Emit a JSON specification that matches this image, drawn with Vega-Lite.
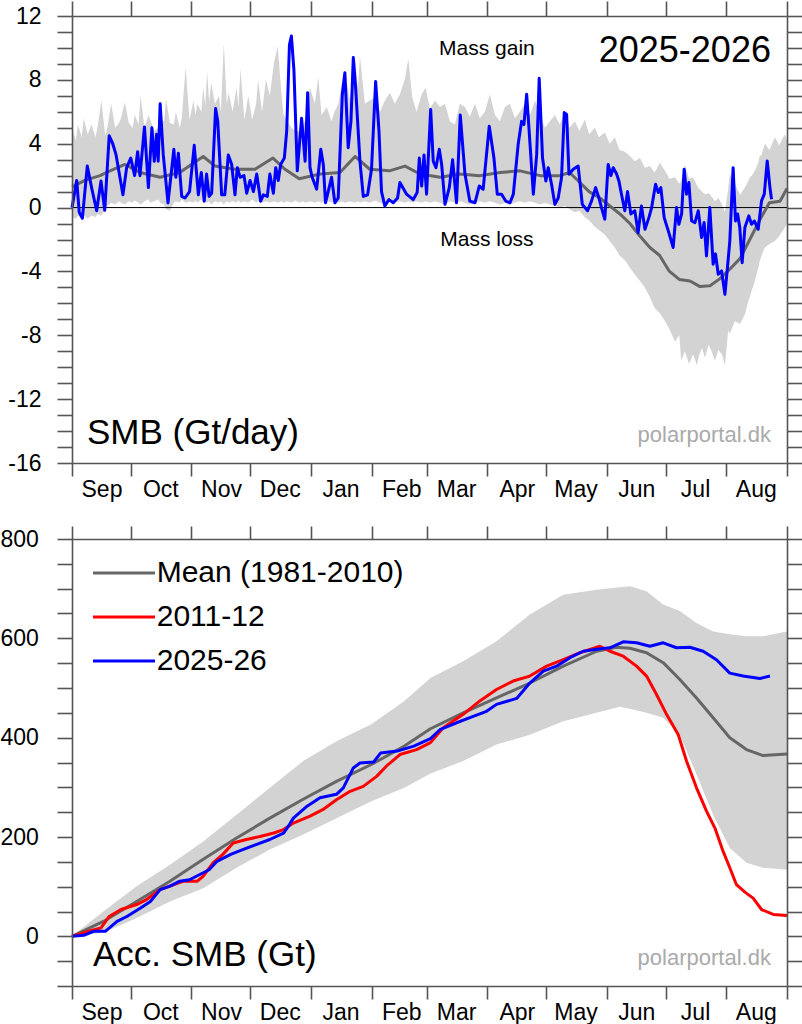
{
  "$schema": "https://vega.github.io/schema/vega-lite/v6.json",
  "padding": {"left": 0, "top": 0, "right": 0, "bottom": 0},
  "bounds": "flush",
  "spacing": 76,
  "datasets": {
    "band1": [
      {"d":0,"lo":-0.6,"hi":5.0},{"d":2,"lo":-0.7,"hi":4.2},{"d":3,"lo":-0.5,"hi":5.2},{"d":5,"lo":-0.7,"hi":4.4},{"d":6,"lo":-0.5,"hi":5.6},
      {"d":8,"lo":-0.7,"hi":4.6},{"d":10,"lo":-0.5,"hi":5.2},{"d":12,"lo":-0.6,"hi":4.4},{"d":13,"lo":-0.4,"hi":5.0},{"d":15,"lo":-0.5,"hi":6.7},
      {"d":17,"lo":-0.1,"hi":4.5},{"d":18,"lo":0.1,"hi":5.0},{"d":20,"lo":0.3,"hi":6.5},{"d":22,"lo":0.2,"hi":5.0},{"d":24,"lo":0.4,"hi":5.3},
      {"d":25,"lo":0.3,"hi":5.6},{"d":27,"lo":0.2,"hi":6.6},{"d":29,"lo":0.4,"hi":5.3},{"d":31,"lo":0.3,"hi":5.0},{"d":32,"lo":0.45,"hi":5.8},
      {"d":34,"lo":0.3,"hi":5.2},{"d":35,"lo":0.2,"hi":7.0},{"d":37,"lo":0.4,"hi":5.0},{"d":39,"lo":0.5,"hi":5.8},{"d":40,"lo":0.3,"hi":5.5},
      {"d":42,"lo":0.4,"hi":4.8},{"d":44,"lo":0.5,"hi":5.0},{"d":45,"lo":0.3,"hi":5.5},{"d":47,"lo":0.2,"hi":5.4},{"d":48,"lo":-0.1,"hi":6.8},
      {"d":50,"lo":-0.2,"hi":5.3},{"d":52,"lo":0.3,"hi":5.2},{"d":53,"lo":0.4,"hi":6.0},{"d":55,"lo":0.3,"hi":5.0},{"d":56,"lo":0.5,"hi":5.6},
      {"d":58,"lo":0.3,"hi":8.8},{"d":60,"lo":0.4,"hi":5.5},{"d":62,"lo":0.3,"hi":6.7},{"d":63,"lo":0.45,"hi":5.8},{"d":64,"lo":0.3,"hi":6.5},
      {"d":66,"lo":0.5,"hi":6.0},{"d":67,"lo":0.3,"hi":7.5},{"d":68,"lo":0.4,"hi":6.4},{"d":69,"lo":0.3,"hi":8.5},{"d":70,"lo":0.4,"hi":6.6},
      {"d":71,"lo":0.2,"hi":7.8},{"d":73,"lo":0.4,"hi":6.5},{"d":75,"lo":0.3,"hi":7.0},{"d":76,"lo":0.4,"hi":6.0},{"d":77.5,"lo":0.2,"hi":10.3},
      {"d":79,"lo":0.4,"hi":6.5},{"d":80,"lo":0.3,"hi":7.2},{"d":82,"lo":0.4,"hi":6.0},{"d":84,"lo":0.3,"hi":7.5},{"d":85,"lo":0.45,"hi":6.3},
      {"d":86,"lo":0.3,"hi":8.7},{"d":88,"lo":0.4,"hi":5.5},{"d":90,"lo":0.3,"hi":7.0},{"d":92,"lo":0.5,"hi":5.5},{"d":94,"lo":0.3,"hi":6.5},
      {"d":95,"lo":0.4,"hi":8.0},{"d":97,"lo":0.3,"hi":6.0},{"d":99,"lo":0.4,"hi":8.0},{"d":101,"lo":0.3,"hi":7.0},{"d":103,"lo":0.4,"hi":9.0},
      {"d":105,"lo":0.3,"hi":10.1},{"d":107,"lo":0.4,"hi":7.0},{"d":108,"lo":0.3,"hi":5.8},{"d":110,"lo":0.4,"hi":5.4},{"d":112,"lo":0.3,"hi":5.0},
      {"d":114,"lo":0.45,"hi":4.8},{"d":116,"lo":0.3,"hi":4.8},{"d":118,"lo":0.4,"hi":5.2},{"d":119,"lo":0.3,"hi":5.4},{"d":121.5,"lo":0.4,"hi":7.5},
      {"d":124,"lo":0.3,"hi":6.5},{"d":125.7,"lo":0.4,"hi":8.2},{"d":127.4,"lo":0.3,"hi":5.8},{"d":130,"lo":0.45,"hi":6.3},{"d":132.5,"lo":0.3,"hi":5.4},
      {"d":134,"lo":0.4,"hi":6.0},{"d":136,"lo":0.3,"hi":6.5},{"d":137.6,"lo":0.4,"hi":7.7},{"d":139.3,"lo":0.3,"hi":8.6},{"d":141.9,"lo":0.4,"hi":6.7},
      {"d":144.4,"lo":0.3,"hi":9.4},{"d":146,"lo":0.4,"hi":7.5},{"d":147,"lo":0.3,"hi":9.5},{"d":149.5,"lo":0.4,"hi":6.5},{"d":152,"lo":0.3,"hi":6.7},
      {"d":154.6,"lo":0.45,"hi":6.9},{"d":157.2,"lo":0.3,"hi":6.0},{"d":159.7,"lo":0.2,"hi":6.7},{"d":162.3,"lo":0.4,"hi":7.2},{"d":164.8,"lo":0.3,"hi":6.5},
      {"d":167.4,"lo":0.4,"hi":7.1},{"d":170,"lo":0.3,"hi":8.1},{"d":171.7,"lo":0.4,"hi":9.3},{"d":173.7,"lo":0.3,"hi":6.9},{"d":175.9,"lo":0.4,"hi":6.0},
      {"d":178.5,"lo":0.3,"hi":7.1},{"d":180.5,"lo":0.4,"hi":7.5},{"d":182.7,"lo":0.3,"hi":6.2},{"d":185.3,"lo":0.4,"hi":6.7},{"d":187.8,"lo":0.3,"hi":6.3},
      {"d":190.4,"lo":0.2,"hi":6.5},{"d":192.9,"lo":0.4,"hi":5.4},{"d":195.5,"lo":0.3,"hi":5.2},{"d":198,"lo":0.4,"hi":6.5},{"d":200.6,"lo":0.3,"hi":6.3},
      {"d":203.1,"lo":0.2,"hi":5.7},{"d":205.7,"lo":0.3,"hi":6.5},{"d":208.2,"lo":0.4,"hi":5.6},{"d":210.8,"lo":0.3,"hi":6.0},{"d":213.3,"lo":0.4,"hi":7.1},
      {"d":215.9,"lo":0.3,"hi":5.8},{"d":218.4,"lo":0.2,"hi":5.4},{"d":221,"lo":0.3,"hi":6.3},{"d":223.5,"lo":0.2,"hi":6.5},{"d":226.1,"lo":0.3,"hi":5.6},
      {"d":228.6,"lo":0.4,"hi":6.0},{"d":231.2,"lo":0.3,"hi":6.5},{"d":233.8,"lo":0.4,"hi":5.8},{"d":236.3,"lo":0.3,"hi":6.7},{"d":238.9,"lo":0.2,"hi":5.8},
      {"d":241.4,"lo":0.3,"hi":5.0},{"d":244,"lo":0.2,"hi":5.4},{"d":246.5,"lo":0.1,"hi":5.8},{"d":249,"lo":0.0,"hi":5.2},{"d":251.6,"lo":0.1,"hi":6.0},
      {"d":254,"lo":-0.1,"hi":5.0},{"d":256.7,"lo":-0.3,"hi":5.4},{"d":259,"lo":-0.2,"hi":4.8},{"d":261.8,"lo":-0.6,"hi":5.5},{"d":264,"lo":-0.8,"hi":4.6},
      {"d":266.9,"lo":-1.2,"hi":5.0},{"d":269,"lo":-1.4,"hi":4.4},{"d":272,"lo":-1.7,"hi":4.7},{"d":274.5,"lo":-2.1,"hi":4.0},{"d":277.1,"lo":-2.5,"hi":4.4},
      {"d":279.5,"lo":-3.0,"hi":3.6},{"d":282.2,"lo":-3.3,"hi":3.5},{"d":285,"lo":-3.8,"hi":3.2},{"d":287.3,"lo":-4.2,"hi":2.9},{"d":290,"lo":-4.6,"hi":3.1},
      {"d":292.4,"lo":-5.0,"hi":2.5},{"d":295,"lo":-5.6,"hi":2.6},{"d":297.5,"lo":-6.3,"hi":2.2},{"d":300,"lo":-6.6,"hi":2.8},{"d":302.7,"lo":-7.1,"hi":2.3},
      {"d":305,"lo":-7.6,"hi":1.8},{"d":307.8,"lo":-8.4,"hi":1.9},{"d":310,"lo":-8.0,"hi":1.5},{"d":311,"lo":-9.6,"hi":1.7},{"d":312.9,"lo":-9.0,"hi":2.7},
      {"d":315,"lo":-9.8,"hi":1.8},{"d":317,"lo":-9.2,"hi":1.9},{"d":318,"lo":-9.5,"hi":1.67},{"d":319,"lo":-9.9,"hi":1.4},{"d":320,"lo":-9.3,"hi":1.2},
      {"d":321.6,"lo":-8.8,"hi":1.0},{"d":323.1,"lo":-9.4,"hi":0.83},{"d":325,"lo":-8.6,"hi":0.9},{"d":326.5,"lo":-9.0,"hi":0.7},{"d":328.2,"lo":-9.6,"hi":0.4},
      {"d":330,"lo":-8.9,"hi":0.6},{"d":331.8,"lo":-9.2,"hi":0.2},{"d":333.3,"lo":-9.9,"hi":-0.3},{"d":335,"lo":-7.7,"hi":1.2},{"d":335.8,"lo":-7.9,"hi":2.1},
      {"d":338.4,"lo":-7.1,"hi":1.5},{"d":341,"lo":-7.3,"hi":0.8},{"d":343.5,"lo":-6.7,"hi":1.25},{"d":345,"lo":-6.0,"hi":1.6},{"d":346,"lo":-5.6,"hi":1.9},
      {"d":347,"lo":-5.2,"hi":2.0},{"d":348.6,"lo":-4.6,"hi":2.3},{"d":350.3,"lo":-3.8,"hi":2.8},{"d":351,"lo":-3.4,"hi":3.2},{"d":352,"lo":-3.0,"hi":3.3},
      {"d":353.7,"lo":-2.5,"hi":4.0},{"d":356,"lo":-2.3,"hi":3.6},{"d":358.8,"lo":-2.1,"hi":4.4},{"d":361,"lo":-1.8,"hi":3.9},{"d":363.9,"lo":-1.25,"hi":4.6},
      {"d":365,"lo":-1.0,"hi":4.2}
    ],
    "mean1": [
      {"d":0,"v":1.3},{"d":6.6,"v":1.7},{"d":14.3,"v":2.0},{"d":19.4,"v":2.3},{"d":27,"v":2.7},{"d":34.7,"v":2.2},{"d":45,"v":1.9},
      {"d":55,"v":2.2},{"d":67,"v":3.2},{"d":73,"v":2.6},{"d":83,"v":2.4},{"d":93.4,"v":2.4},{"d":102.6,"v":3.1},{"d":108.7,"v":2.4},
      {"d":116,"v":1.8},{"d":126.6,"v":2.1},{"d":136.8,"v":2.2},{"d":144.5,"v":3.2},{"d":152,"v":2.4},{"d":162,"v":2.3},{"d":170,"v":2.6},
      {"d":177.6,"v":2.1},{"d":188,"v":1.9},{"d":198,"v":2.1},{"d":208,"v":2.0},{"d":218.5,"v":2.2},{"d":228.7,"v":2.3},{"d":239,"v":2.0},
      {"d":249,"v":2.0},{"d":254,"v":2.2},{"d":259,"v":1.6},{"d":264,"v":1.0},{"d":269.5,"v":0.6},{"d":274.6,"v":0.1},{"d":279.7,"v":-0.4},
      {"d":284.8,"v":-1.0},{"d":290,"v":-1.8},{"d":295,"v":-2.5},{"d":300,"v":-3.0},{"d":305,"v":-4.0},{"d":310,"v":-4.5},{"d":315.5,"v":-4.6},
      {"d":320.6,"v":-4.95},{"d":325.7,"v":-4.9},{"d":330.8,"v":-4.45},{"d":335.9,"v":-3.85},{"d":341,"v":-3.2},{"d":346,"v":-2.0},
      {"d":351,"v":-0.8},{"d":356,"v":0.3},{"d":361.4,"v":0.4},{"d":365,"v":1.2}
    ],
    "cur1": [
      {"d":0,"v":0},{"d":2.4,"v":1.7},{"d":3.7,"v":-0.3},{"d":5.3,"v":-0.67},{"d":7.8,"v":2.6},{"d":10,"v":1.25},{"d":12.6,"v":-0.2},
      {"d":14.8,"v":1.67},{"d":16.7,"v":-0.17},{"d":19,"v":4.5},{"d":20.8,"v":4.0},{"d":22.5,"v":3.3},{"d":26,"v":0.8},{"d":27.9,"v":2.5},
      {"d":30,"v":3.1},{"d":32,"v":2.0},{"d":33.5,"v":3.5},{"d":34.7,"v":2.0},{"d":37,"v":5.05},{"d":39,"v":1.25},{"d":40.8,"v":5.0},
      {"d":42,"v":2.9},{"d":43.2,"v":4.6},{"d":44,"v":2.9},{"d":45,"v":6.5},{"d":46.6,"v":3.3},{"d":49,"v":0.3},{"d":52,"v":3.65},
      {"d":53,"v":1.9},{"d":54.3,"v":3.4},{"d":56,"v":0.7},{"d":57.7,"v":0.6},{"d":60,"v":1.0},{"d":62.4,"v":3.9},{"d":64.5,"v":0.8},
      {"d":66,"v":2.2},{"d":67.5,"v":0.4},{"d":68.7,"v":2.1},{"d":70,"v":0.7},{"d":71.3,"v":0.9},{"d":73.3,"v":6.2},{"d":74.4,"v":5.4},
      {"d":76.4,"v":0.8},{"d":78,"v":0.8},{"d":79.8,"v":3.3},{"d":81.5,"v":2.7},{"d":83.2,"v":0.8},{"d":84.4,"v":2.5},{"d":85.8,"v":1.9},
      {"d":87.8,"v":2.0},{"d":89.2,"v":0.9},{"d":90.9,"v":1.7},{"d":92.6,"v":1.0},{"d":94.3,"v":2.1},{"d":96.3,"v":0.4},{"d":97.7,"v":0.8},
      {"d":99.7,"v":0.7},{"d":101,"v":2.1},{"d":102.8,"v":0.9},{"d":104,"v":2.5},{"d":105.3,"v":1.7},{"d":106.5,"v":2.7},{"d":108.4,"v":3.1},
      {"d":109.6,"v":4.8},{"d":111,"v":10.2},{"d":112,"v":10.75},{"d":113.3,"v":8.6},{"d":115,"v":2.3},{"d":117.2,"v":5.6},{"d":119,"v":2.9},
      {"d":120.3,"v":7.2},{"d":121.5,"v":2.5},{"d":122.6,"v":1.9},{"d":124.9,"v":1.15},{"d":127,"v":3.65},{"d":128.3,"v":2.7},{"d":129.4,"v":0.3},
      {"d":131.1,"v":1.15},{"d":132.5,"v":1.9},{"d":134.2,"v":0.3},{"d":135.9,"v":0.6},{"d":138,"v":7.1},{"d":139.3,"v":8.45},{"d":141,"v":3.75},
      {"d":142.4,"v":5.4},{"d":143.6,"v":9.4},{"d":144.8,"v":7.5},{"d":147,"v":2.9},{"d":148.7,"v":0.7},{"d":150.9,"v":0.8},{"d":152.9,"v":2.4},
      {"d":155,"v":7.9},{"d":156.7,"v":4.8},{"d":158,"v":1.0},{"d":159.7,"v":0.1},{"d":161.8,"v":0.5},{"d":164,"v":0.3},{"d":166.2,"v":0.6},
      {"d":167.4,"v":1.57},{"d":170.8,"v":0.84},{"d":174.2,"v":0.5},{"d":176.2,"v":0.94},{"d":177.3,"v":3.1},{"d":178.5,"v":1.35},{"d":179.7,"v":3.3},
      {"d":181,"v":0.84},{"d":183.1,"v":6.15},{"d":184.4,"v":2.9},{"d":185.8,"v":2.5},{"d":187.5,"v":3.65},{"d":188.7,"v":2.7},{"d":190.4,"v":0.2},
      {"d":192.6,"v":1.25},{"d":194.3,"v":3.0},{"d":196.3,"v":0.3},{"d":198.2,"v":5.8},{"d":200.6,"v":2.1},{"d":203.1,"v":0.4},{"d":205.7,"v":0.3},
      {"d":207.9,"v":1.35},{"d":209.9,"v":1.15},{"d":213,"v":5.1},{"d":215.4,"v":3.1},{"d":217.1,"v":0.84},{"d":219.3,"v":0.84},{"d":221.5,"v":0.4},
      {"d":223.6,"v":0.3},{"d":225.3,"v":0.84},{"d":227.8,"v":4.0},{"d":229.5,"v":5.4},{"d":230.7,"v":5.2},{"d":232.1,"v":7.1},{"d":233.8,"v":4.0},
      {"d":235.5,"v":0.84},{"d":237.2,"v":3.3},{"d":238.5,"v":8.1},{"d":240.2,"v":3.1},{"d":241.9,"v":1.67},{"d":243.1,"v":2.5},{"d":244.8,"v":1.46},
      {"d":246.5,"v":0.2},{"d":248.2,"v":0.6},{"d":249.9,"v":1.88},{"d":251.3,"v":5.95},{"d":252.5,"v":5.84},{"d":253.7,"v":2.09},{"d":255.9,"v":2.4},
      {"d":258.4,"v":2.6},{"d":260.5,"v":0.2},{"d":263.2,"v":-0.2},{"d":265.2,"v":0.4},{"d":267.3,"v":1.25},{"d":269,"v":0.6},{"d":270.3,"v":0},
      {"d":272,"v":-0.73},{"d":273.7,"v":2.7},{"d":275.1,"v":2.0},{"d":276.3,"v":2.5},{"d":278,"v":2.1},{"d":279.2,"v":1.67},{"d":280.5,"v":0.84},
      {"d":282.2,"v":-0.2},{"d":283.6,"v":1.0},{"d":285.3,"v":-0.4},{"d":287.3,"v":-0.2},{"d":289,"v":-1.57},{"d":290.7,"v":0.1},{"d":292.5,"v":-1.36},
      {"d":294.5,"v":-0.63},{"d":295.9,"v":0},{"d":297.9,"v":1.46},{"d":299.3,"v":0.94},{"d":300.6,"v":1.25},{"d":302.3,"v":-0.63},{"d":304.4,"v":-1.46},
      {"d":306.9,"v":-2.5},{"d":308.6,"v":0},{"d":309.8,"v":-1.05},{"d":311.2,"v":-0.4},{"d":312.5,"v":2.4},{"d":313.7,"v":0.84},{"d":314.9,"v":1.57},
      {"d":316.3,"v":-0.84},{"d":318,"v":-0.94},{"d":319.7,"v":-0.2},{"d":321.4,"v":-1.88},{"d":322.7,"v":-0.94},{"d":323.9,"v":-3.03},{"d":325.6,"v":0},
      {"d":327.3,"v":-3.55},{"d":328.5,"v":-2.9},{"d":329.9,"v":-4.18},{"d":331.6,"v":-3.97},{"d":333.3,"v":-5.43},{"d":334.6,"v":-3.76},{"d":335.8,"v":-2.1},
      {"d":337.5,"v":2.5},{"d":338.7,"v":-0.84},{"d":339.8,"v":-0.4},{"d":340.9,"v":-1.25},{"d":342.1,"v":-3.45},{"d":343.5,"v":-1.25},{"d":345.5,"v":-0.52},
      {"d":346.9,"v":-1.05},{"d":348.3,"v":-0.84},{"d":350.3,"v":-1.36},{"d":352,"v":0.42},{"d":353.4,"v":0.84},{"d":354.9,"v":2.92},{"d":356.3,"v":1.25},
      {"d":357.1,"v":0.52}
    ],
    "band2": [
      {"d":0,"lo":0,"hi":0},{"d":16,"lo":7,"hi":50},{"d":33,"lo":37,"hi":101},{"d":50,"lo":70,"hi":144},{"d":67,"lo":97,"hi":191},
      {"d":84,"lo":138,"hi":245},{"d":101,"lo":175,"hi":299},{"d":118,"lo":205,"hi":353},{"d":135,"lo":238,"hi":393},{"d":152.8,"lo":272,"hi":427},
      {"d":169.7,"lo":299,"hi":474},{"d":183,"lo":328,"hi":520},{"d":199.7,"lo":353,"hi":554},{"d":216.7,"lo":386,"hi":594},{"d":233.7,"lo":406,"hi":648},
      {"d":250.8,"lo":433,"hi":688},{"d":267.8,"lo":450,"hi":698},{"d":279.7,"lo":462,"hi":703},{"d":284.8,"lo":458,"hi":705},{"d":293.3,"lo":450,"hi":695},
      {"d":301.8,"lo":440,"hi":668},{"d":310.3,"lo":406,"hi":655},{"d":318.8,"lo":326,"hi":631},{"d":327.3,"lo":245,"hi":614},{"d":335.8,"lo":178,"hi":608},
      {"d":344.3,"lo":148,"hi":604},{"d":352.8,"lo":138,"hi":604},{"d":365,"lo":134,"hi":614}
    ],
    "lines2": [
      {"s":"Mean (1981-2010)","d":0,"v":0},{"s":"Mean (1981-2010)","d":16,"v":30},{"s":"Mean (1981-2010)","d":33,"v":70},
      {"s":"Mean (1981-2010)","d":50,"v":111},{"s":"Mean (1981-2010)","d":67,"v":155},{"s":"Mean (1981-2010)","d":84,"v":198},
      {"s":"Mean (1981-2010)","d":101,"v":238},{"s":"Mean (1981-2010)","d":118,"v":276},{"s":"Mean (1981-2010)","d":135,"v":312},
      {"s":"Mean (1981-2010)","d":152.8,"v":346},{"s":"Mean (1981-2010)","d":169.7,"v":383},{"s":"Mean (1981-2010)","d":183,"v":418},
      {"s":"Mean (1981-2010)","d":199.7,"v":450},{"s":"Mean (1981-2010)","d":216.7,"v":480},{"s":"Mean (1981-2010)","d":233.7,"v":510},
      {"s":"Mean (1981-2010)","d":250.8,"v":544},{"s":"Mean (1981-2010)","d":267.8,"v":574},{"s":"Mean (1981-2010)","d":278,"v":582},
      {"s":"Mean (1981-2010)","d":284.8,"v":580},{"s":"Mean (1981-2010)","d":293.3,"v":571},{"s":"Mean (1981-2010)","d":301.8,"v":551},
      {"s":"Mean (1981-2010)","d":310.3,"v":517},{"s":"Mean (1981-2010)","d":318.8,"v":480},{"s":"Mean (1981-2010)","d":327.3,"v":440},
      {"s":"Mean (1981-2010)","d":335.8,"v":400},{"s":"Mean (1981-2010)","d":344.3,"v":376},{"s":"Mean (1981-2010)","d":352.8,"v":364},
      {"s":"Mean (1981-2010)","d":365,"v":367},
      {"s":"2011-12","d":0,"v":0},{"s":"2011-12","d":8,"v":10},{"s":"2011-12","d":14.8,"v":17},{"s":"2011-12","d":19,"v":40},
      {"s":"2011-12","d":25,"v":54},{"s":"2011-12","d":33,"v":64},{"s":"2011-12","d":38,"v":74},{"s":"2011-12","d":45,"v":94},
      {"s":"2011-12","d":50,"v":101},{"s":"2011-12","d":57,"v":111},{"s":"2011-12","d":64,"v":111},{"s":"2011-12","d":67,"v":121},
      {"s":"2011-12","d":72,"v":148},{"s":"2011-12","d":77,"v":165},{"s":"2011-12","d":82.3,"v":188},{"s":"2011-12","d":89,"v":195},
      {"s":"2011-12","d":96,"v":201},{"s":"2011-12","d":103,"v":208},{"s":"2011-12","d":108,"v":215},{"s":"2011-12","d":113,"v":228},
      {"s":"2011-12","d":121.5,"v":242},{"s":"2011-12","d":128,"v":255},{"s":"2011-12","d":135,"v":275},{"s":"2011-12","d":142,"v":292},
      {"s":"2011-12","d":148.7,"v":302},{"s":"2011-12","d":155.5,"v":322},{"s":"2011-12","d":160.6,"v":343},{"s":"2011-12","d":167.4,"v":366},
      {"s":"2011-12","d":175.9,"v":376},{"s":"2011-12","d":183,"v":390},{"s":"2011-12","d":189.5,"v":420},{"s":"2011-12","d":199.7,"v":447},
      {"s":"2011-12","d":208.2,"v":474},{"s":"2011-12","d":216.7,"v":497},{"s":"2011-12","d":225.2,"v":514},{"s":"2011-12","d":233.7,"v":524},
      {"s":"2011-12","d":242.3,"v":544},{"s":"2011-12","d":250.8,"v":557},{"s":"2011-12","d":259.3,"v":571},{"s":"2011-12","d":269.5,"v":584},
      {"s":"2011-12","d":274.6,"v":574},{"s":"2011-12","d":281.4,"v":564},{"s":"2011-12","d":288.2,"v":544},{"s":"2011-12","d":293.3,"v":524},
      {"s":"2011-12","d":298.4,"v":487},{"s":"2011-12","d":303.5,"v":447},{"s":"2011-12","d":309.5,"v":406},{"s":"2011-12","d":313.7,"v":353},
      {"s":"2011-12","d":318.8,"v":299},{"s":"2011-12","d":323.9,"v":252},{"s":"2011-12","d":328.2,"v":218},{"s":"2011-12","d":332.4,"v":171},
      {"s":"2011-12","d":335.8,"v":138},{"s":"2011-12","d":339.2,"v":104},{"s":"2011-12","d":343.5,"v":89},{"s":"2011-12","d":347.7,"v":77},
      {"s":"2011-12","d":352,"v":54},{"s":"2011-12","d":358,"v":44},{"s":"2011-12","d":365,"v":42},
      {"s":"2025-26","d":0,"v":0},{"s":"2025-26","d":6,"v":2},{"s":"2025-26","d":11,"v":10},{"s":"2025-26","d":17,"v":10},
      {"s":"2025-26","d":23,"v":30},{"s":"2025-26","d":28,"v":40},{"s":"2025-26","d":35,"v":57},{"s":"2025-26","d":40,"v":70},
      {"s":"2025-26","d":45,"v":94},{"s":"2025-26","d":50,"v":101},{"s":"2025-26","d":55,"v":111},{"s":"2025-26","d":60,"v":114},
      {"s":"2025-26","d":65,"v":124},{"s":"2025-26","d":70,"v":134},{"s":"2025-26","d":74,"v":151},{"s":"2025-26","d":81,"v":165},
      {"s":"2025-26","d":87.5,"v":175},{"s":"2025-26","d":94.3,"v":185},{"s":"2025-26","d":101,"v":195},{"s":"2025-26","d":108,"v":208},
      {"s":"2025-26","d":111,"v":225},{"s":"2025-26","d":113,"v":238},{"s":"2025-26","d":120,"v":262},{"s":"2025-26","d":126.6,"v":279},
      {"s":"2025-26","d":135,"v":286},{"s":"2025-26","d":138.5,"v":299},{"s":"2025-26","d":143.6,"v":339},{"s":"2025-26","d":147,"v":349},
      {"s":"2025-26","d":154,"v":351},{"s":"2025-26","d":157.5,"v":369},{"s":"2025-26","d":166,"v":373},{"s":"2025-26","d":174.5,"v":383},
      {"s":"2025-26","d":183,"v":398},{"s":"2025-26","d":187.8,"v":416},{"s":"2025-26","d":196.3,"v":430},{"s":"2025-26","d":204.8,"v":443},
      {"s":"2025-26","d":211.6,"v":453},{"s":"2025-26","d":216.7,"v":467},{"s":"2025-26","d":227,"v":479},{"s":"2025-26","d":233.7,"v":510},
      {"s":"2025-26","d":240.6,"v":534},{"s":"2025-26","d":247.4,"v":544},{"s":"2025-26","d":254.2,"v":561},{"s":"2025-26","d":261,"v":574},
      {"s":"2025-26","d":267.8,"v":578},{"s":"2025-26","d":274.6,"v":581},{"s":"2025-26","d":281.4,"v":593},{"s":"2025-26","d":288.2,"v":591},
      {"s":"2025-26","d":295,"v":584},{"s":"2025-26","d":301.8,"v":591},{"s":"2025-26","d":308.6,"v":581},{"s":"2025-26","d":315.4,"v":582},
      {"s":"2025-26","d":322.2,"v":574},{"s":"2025-26","d":329,"v":557},{"s":"2025-26","d":335.8,"v":530},{"s":"2025-26","d":342.6,"v":524},
      {"s":"2025-26","d":351.2,"v":519},{"s":"2025-26","d":356.3,"v":524}
    ]
  },
  "vconcat": [
    {
      "width": 715,
      "height": 447,
      "resolve": {"axis": {"x": "independent", "y": "independent"}},
      "layer": [
        {
          "data": {"name": "band1"},
          "mark": {"type": "area", "color": "#d3d3d3"},
          "encoding": {
            "x": {"field": "d", "type": "quantitative", "scale": {"domain": [0, 365], "nice": false, "zero": false},
              "axis": {"orient": "bottom", "title": null, "values": [0,30,61,91,122,153,181,212,242,273,303,334,365],
                "labelExpr": "['Sep','Oct','Nov','Dec','Jan','Feb','Mar','Apr','May','Jun','Jul','Aug',''][indexof([0,30,61,91,122,153,181,212,242,273,303,334,365], datum.value)]",
                "labelOffset": 29.5, "labelFlush": false, "labelOverlap": false, "labelBound": false, "tickSize": 13, "labelPadding": 2, "zindex": 1}},
            "y": {"field": "lo", "type": "quantitative", "scale": {"domain": [-16, 12], "nice": false, "zero": false},
              "axis": {"orient": "left", "title": null, "values": [-16,-15,-14,-13,-12,-11,-10,-9,-8,-7,-6,-5,-4,-3,-2,-1,0,1,2,3,4,5,6,7,8,9,10,11,12],
                "labelExpr": "datum.value % 4 === 0 ? '' + datum.value : ''", "labelOverlap": false, "labelFlush": false, "labelBound": false,
                "tickSize": 15, "labelPadding": 16, "zindex": 1,
                "encode": {"ticks": {"update": {"x2": {"signal": "datum.value % 4 === 0 ? -15 : -7"}}}}}},
            "y2": {"field": "hi"}
          }
        },
        {
          "data": {"values": [{"v": 0}]},
          "mark": {"type": "rule", "color": "#000000", "strokeWidth": 1},
          "encoding": {"y": {"field": "v", "type": "quantitative", "axis": null}}
        },
        {
          "data": {"name": "mean1"},
          "mark": {"type": "line", "color": "#666666", "strokeWidth": 3, "strokeJoin": "round"},
          "encoding": {
            "x": {"field": "d", "type": "quantitative",
              "axis": {"orient": "top", "title": null, "labels": false, "values": [0,30,61,91,122,153,181,212,242,273,303,334,365], "tickSize": 15, "zindex": 1}},
            "y": {"field": "v", "type": "quantitative",
              "axis": {"orient": "right", "title": null, "labels": false, "values": [-16,-15,-14,-13,-12,-11,-10,-9,-8,-7,-6,-5,-4,-3,-2,-1,0,1,2,3,4,5,6,7,8,9,10,11,12],
                "tickSize": 15, "zindex": 1,
                "encode": {"ticks": {"update": {"x2": {"signal": "datum.value % 4 === 0 ? 15 : 7"}}}}}}
          }
        },
        {
          "data": {"name": "cur1"},
          "mark": {"type": "line", "color": "#0000ff", "strokeWidth": 3, "strokeJoin": "round"},
          "encoding": {
            "x": {"field": "d", "type": "quantitative", "axis": null},
            "y": {"field": "v", "type": "quantitative", "axis": null}
          }
        },
        {
          "data": {"values": [{"d": 211.8, "v": 9.56, "t": "Mass gain"}, {"d": 211.8, "v": -2.4, "t": "Mass loss"}]},
          "mark": {"type": "text", "fontSize": 21, "align": "center", "baseline": "alphabetic", "color": "#000000"},
          "encoding": {"x": {"field": "d", "type": "quantitative", "axis": null}, "y": {"field": "v", "type": "quantitative", "axis": null}, "text": {"field": "t"}}
        },
        {
          "data": {"values": [{"d": 356.8, "v": 9.12, "t": "2025-2026"}]},
          "mark": {"type": "text", "fontSize": 36, "align": "right", "baseline": "alphabetic", "color": "#000000"},
          "encoding": {"x": {"field": "d", "type": "quantitative", "axis": null}, "y": {"field": "v", "type": "quantitative", "axis": null}, "text": {"field": "t"}}
        },
        {
          "data": {"values": [{"d": 7.66, "v": -14.8, "t": "SMB (Gt/day)"}]},
          "mark": {"type": "text", "fontSize": 35, "align": "left", "baseline": "alphabetic", "color": "#000000"},
          "encoding": {"x": {"field": "d", "type": "quantitative", "axis": null}, "y": {"field": "v", "type": "quantitative", "axis": null}, "text": {"field": "t"}}
        },
        {
          "data": {"values": [{"d": 356.8, "v": -14.7, "t": "polarportal.dk"}]},
          "mark": {"type": "text", "fontSize": 22, "align": "right", "baseline": "alphabetic", "color": "#aaaaaa"},
          "encoding": {"x": {"field": "d", "type": "quantitative", "axis": null}, "y": {"field": "v", "type": "quantitative", "axis": null}, "text": {"field": "t"}}
        }
      ]
    },
    {
      "width": 715,
      "height": 447,
      "resolve": {"axis": {"x": "independent", "y": "independent"}},
      "layer": [
        {
          "data": {"name": "band2"},
          "mark": {"type": "area", "color": "#d3d3d3"},
          "encoding": {
            "x": {"field": "d", "type": "quantitative", "scale": {"domain": [0, 365], "nice": false, "zero": false},
              "axis": {"orient": "bottom", "title": null, "values": [0,30,61,91,122,153,181,212,242,273,303,334,365],
                "labelExpr": "['Sep','Oct','Nov','Dec','Jan','Feb','Mar','Apr','May','Jun','Jul','Aug',''][indexof([0,30,61,91,122,153,181,212,242,273,303,334,365], datum.value)]",
                "labelOffset": 29.5, "labelFlush": false, "labelOverlap": false, "labelBound": false, "tickSize": 13, "labelPadding": 2, "zindex": 1}},
            "y": {"field": "lo", "type": "quantitative", "scale": {"domain": [-100, 800], "nice": false, "zero": false},
              "axis": {"orient": "left", "title": null, "values": [-100,-50,0,50,100,150,200,250,300,350,400,450,500,550,600,650,700,750,800],
                "labelExpr": "datum.value % 200 === 0 ? '' + datum.value : ''", "labelOverlap": false, "labelFlush": false, "labelBound": false,
                "tickSize": 15, "labelPadding": 18.6, "zindex": 1,
                "encode": {"ticks": {"update": {"x2": {"signal": "datum.value % 200 === 0 ? -15 : -7"}}}}}},
            "y2": {"field": "hi"}
          }
        },
        {
          "data": {"name": "lines2"},
          "mark": {"type": "line", "strokeWidth": 3, "strokeJoin": "round"},
          "encoding": {
            "x": {"field": "d", "type": "quantitative",
              "axis": {"orient": "top", "title": null, "labels": false, "values": [0,30,61,91,122,153,181,212,242,273,303,334,365], "tickSize": 13, "zindex": 1}},
            "y": {"field": "v", "type": "quantitative",
              "axis": {"orient": "right", "title": null, "labels": false, "values": [-100,-50,0,50,100,150,200,250,300,350,400,450,500,550,600,650,700,750,800],
                "tickSize": 15, "zindex": 1,
                "encode": {"ticks": {"update": {"x2": {"signal": "datum.value % 200 === 0 ? 15 : 7"}}}}}},
            "color": {"field": "s", "type": "nominal",
              "scale": {"domain": ["Mean (1981-2010)", "2011-12", "2025-26"], "range": ["#666666", "#ff0000", "#0000ff"]},
              "legend": {"title": null, "orient": "none", "legendX": 37, "legendY": 542, "symbolType": "M-3,0H3", "symbolSize": 427,
                "symbolStrokeWidth": 3, "labelFontSize": 30, "labelFont": "Liberation Sans", "labelColor": "#000000", "labelOffset": 17.7,
                "labelLimit": 0, "rowPadding": 14, "padding": 0}}
          }
        },
        {
          "data": {"values": [{"d": 10.7, "v": -60, "t": "Acc. SMB (Gt)"}]},
          "mark": {"type": "text", "fontSize": 35, "align": "left", "baseline": "alphabetic", "color": "#000000"},
          "encoding": {"x": {"field": "d", "type": "quantitative", "axis": null}, "y": {"field": "v", "type": "quantitative", "axis": null}, "text": {"field": "t"}}
        },
        {
          "data": {"values": [{"d": 356.8, "v": -58, "t": "polarportal.dk"}]},
          "mark": {"type": "text", "fontSize": 22, "align": "right", "baseline": "alphabetic", "color": "#aaaaaa"},
          "encoding": {"x": {"field": "d", "type": "quantitative", "axis": null}, "y": {"field": "v", "type": "quantitative", "axis": null}, "text": {"field": "t"}}
        }
      ]
    }
  ],
  "config": {
    "view": {"stroke": null},
    "font": "Liberation Sans",
    "axis": {"domainColor": "#555555", "domainWidth": 1.6, "tickColor": "#555555", "tickWidth": 1.6, "labelFont": "Liberation Sans",
      "labelFontSize": 23, "labelColor": "#000000", "grid": false}
  }
}
